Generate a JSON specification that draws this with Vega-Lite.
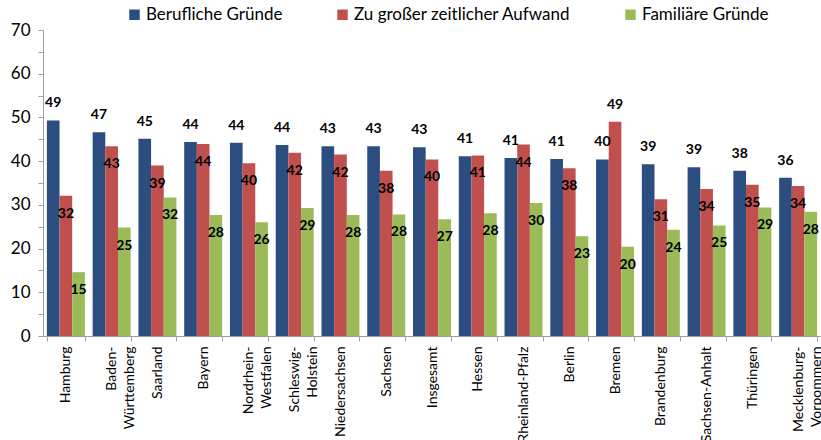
{
  "$schema": "https://vega.github.io/schema/vega-lite/v6.json",
  "width": 778,
  "height": 306,
  "autosize": {"type": "none"},
  "padding": {"left": 43, "top": 30, "right": 0, "bottom": 104},
  "background": "white",
  "config": {
    "font": "Lato",
    "view": {"stroke": null}
  },
  "data": {
    "values": [
      {"cat": "Hamburg", "series": "Berufliche Gründe", "v": 49.3},
      {"cat": "Hamburg", "series": "Zu großer zeitlicher Aufwand", "v": 32.1},
      {"cat": "Hamburg", "series": "Familiäre Gründe", "v": 14.6},
      {"cat": "Baden-Württemberg", "series": "Berufliche Gründe", "v": 46.6},
      {"cat": "Baden-Württemberg", "series": "Zu großer zeitlicher Aufwand", "v": 43.4},
      {"cat": "Baden-Württemberg", "series": "Familiäre Gründe", "v": 24.8},
      {"cat": "Saarland", "series": "Berufliche Gründe", "v": 45.1},
      {"cat": "Saarland", "series": "Zu großer zeitlicher Aufwand", "v": 39.0},
      {"cat": "Saarland", "series": "Familiäre Gründe", "v": 31.7},
      {"cat": "Bayern", "series": "Berufliche Gründe", "v": 44.4},
      {"cat": "Bayern", "series": "Zu großer zeitlicher Aufwand", "v": 43.9},
      {"cat": "Bayern", "series": "Familiäre Gründe", "v": 27.7},
      {"cat": "Nordrhein-Westfalen", "series": "Berufliche Gründe", "v": 44.2},
      {"cat": "Nordrhein-Westfalen", "series": "Zu großer zeitlicher Aufwand", "v": 39.5},
      {"cat": "Nordrhein-Westfalen", "series": "Familiäre Gründe", "v": 26.0},
      {"cat": "Schleswig-Holstein", "series": "Berufliche Gründe", "v": 43.7},
      {"cat": "Schleswig-Holstein", "series": "Zu großer zeitlicher Aufwand", "v": 41.9},
      {"cat": "Schleswig-Holstein", "series": "Familiäre Gründe", "v": 29.3},
      {"cat": "Niedersachsen", "series": "Berufliche Gründe", "v": 43.4},
      {"cat": "Niedersachsen", "series": "Zu großer zeitlicher Aufwand", "v": 41.5},
      {"cat": "Niedersachsen", "series": "Familiäre Gründe", "v": 27.7},
      {"cat": "Sachsen", "series": "Berufliche Gründe", "v": 43.4},
      {"cat": "Sachsen", "series": "Zu großer zeitlicher Aufwand", "v": 37.8},
      {"cat": "Sachsen", "series": "Familiäre Gründe", "v": 27.8},
      {"cat": "Insgesamt", "series": "Berufliche Gründe", "v": 43.2},
      {"cat": "Insgesamt", "series": "Zu großer zeitlicher Aufwand", "v": 40.4},
      {"cat": "Insgesamt", "series": "Familiäre Gründe", "v": 26.7},
      {"cat": "Hessen", "series": "Berufliche Gründe", "v": 41.1},
      {"cat": "Hessen", "series": "Zu großer zeitlicher Aufwand", "v": 41.3},
      {"cat": "Hessen", "series": "Familiäre Gründe", "v": 28.1},
      {"cat": "Rheinland-Pfalz", "series": "Berufliche Gründe", "v": 40.7},
      {"cat": "Rheinland-Pfalz", "series": "Zu großer zeitlicher Aufwand", "v": 43.8},
      {"cat": "Rheinland-Pfalz", "series": "Familiäre Gründe", "v": 30.4},
      {"cat": "Berlin", "series": "Berufliche Gründe", "v": 40.5},
      {"cat": "Berlin", "series": "Zu großer zeitlicher Aufwand", "v": 38.4},
      {"cat": "Berlin", "series": "Familiäre Gründe", "v": 22.8},
      {"cat": "Bremen", "series": "Berufliche Gründe", "v": 40.4},
      {"cat": "Bremen", "series": "Zu großer zeitlicher Aufwand", "v": 49.0},
      {"cat": "Bremen", "series": "Familiäre Gründe", "v": 20.4},
      {"cat": "Brandenburg", "series": "Berufliche Gründe", "v": 39.3},
      {"cat": "Brandenburg", "series": "Zu großer zeitlicher Aufwand", "v": 31.3},
      {"cat": "Brandenburg", "series": "Familiäre Gründe", "v": 24.3},
      {"cat": "Sachsen-Anhalt", "series": "Berufliche Gründe", "v": 38.6},
      {"cat": "Sachsen-Anhalt", "series": "Zu großer zeitlicher Aufwand", "v": 33.6},
      {"cat": "Sachsen-Anhalt", "series": "Familiäre Gründe", "v": 25.3},
      {"cat": "Thüringen", "series": "Berufliche Gründe", "v": 37.8},
      {"cat": "Thüringen", "series": "Zu großer zeitlicher Aufwand", "v": 34.6},
      {"cat": "Thüringen", "series": "Familiäre Gründe", "v": 29.4},
      {"cat": "Mecklenburg-Vorpommern", "series": "Berufliche Gründe", "v": 36.2},
      {"cat": "Mecklenburg-Vorpommern", "series": "Zu großer zeitlicher Aufwand", "v": 34.3},
      {"cat": "Mecklenburg-Vorpommern", "series": "Familiäre Gründe", "v": 28.4}
    ]
  },
  "encoding": {
    "x": {
      "field": "cat",
      "type": "nominal",
      "sort": null,
      "scale": {"paddingInner": 0.17, "paddingOuter": 0.085},
      "axis": {
        "title": null,
        "labelAngle": -90,
        "labelAlign": "right",
        "labelBaseline": "middle",
        "labelFontSize": 14,
        "labelColor": "#000000",
        "labelPadding": 5,
        "labelLineHeight": 18,
        "labelExpr": "datum.label == 'Baden-Württemberg' ? ['Baden-', 'Württemberg'] : datum.label == 'Nordrhein-Westfalen' ? ['Nordrhein-', 'Westfalen'] : datum.label == 'Schleswig-Holstein' ? ['Schleswig-', 'Holstein'] : datum.label == 'Mecklenburg-Vorpommern' ? ['Mecklenburg-', 'Vorpommern'] : datum.label",
        "tickBand": "extent",
        "tickSize": 5,
        "tickColor": "#a0a0a0",
        "domainColor": "#a0a0a0"
      }
    },
    "xOffset": {
      "field": "series",
      "type": "nominal",
      "sort": ["Berufliche Gründe", "Zu großer zeitlicher Aufwand", "Familiäre Gründe"],
      "scale": {"paddingInner": 0, "paddingOuter": 0}
    },
    "y": {
      "field": "v",
      "type": "quantitative",
      "scale": {"domain": [0, 70], "nice": false},
      "axis": {
        "title": null,
        "grid": false,
        "values": [0, 5, 10, 15, 20, 25, 30, 35, 40, 45, 50, 55, 60, 65, 70],
        "labelExpr": "datum.value % 10 == 0 ? datum.label : ''",
        "labelFontSize": 17,
        "labelColor": "#000000",
        "labelPadding": 8,
        "tickSize": 5,
        "tickColor": "#a0a0a0",
        "domainColor": "#a0a0a0"
      }
    }
  },
  "layer": [
    {
      "mark": {"type": "bar"},
      "encoding": {
        "color": {
          "field": "series",
          "type": "nominal",
          "sort": ["Berufliche Gründe", "Zu großer zeitlicher Aufwand", "Familiäre Gründe"],
          "scale": {
            "domain": ["Berufliche Gründe", "Zu großer zeitlicher Aufwand", "Familiäre Gründe"],
            "range": ["#2C4D80", "#C0504D", "#9BBB59"]
          },
          "legend": {
            "title": null,
            "orient": "none",
            "direction": "horizontal",
            "legendX": 83,
            "legendY": -24,
            "symbolType": "square",
            "symbolSize": 110,
            "symbolStrokeWidth": 0,
            "labelFontSize": 17,
            "labelLimit": 500,
            "labelColor": "#000000",
            "labelOffset": 3,
            "columnPadding": 51
          }
        }
      }
    },
    {
      "transform": [{"filter": "datum.series == 'Berufliche Gründe' || (datum.cat == 'Bremen' && datum.series == 'Zu großer zeitlicher Aufwand')"}],
      "mark": {"type": "text", "dy": -17, "fontSize": 14, "fontWeight": "bold", "color": "#000000"},
      "encoding": {"text": {"field": "v", "type": "quantitative", "format": ".0f"}}
    },
    {
      "transform": [{"filter": "datum.series != 'Berufliche Gründe' && !(datum.cat == 'Bremen' && datum.series == 'Zu großer zeitlicher Aufwand')"}],
      "mark": {"type": "text", "dy": 18, "fontSize": 14, "fontWeight": "bold", "color": "#000000"},
      "encoding": {"text": {"field": "v", "type": "quantitative", "format": ".0f"}}
    }
  ]
}
